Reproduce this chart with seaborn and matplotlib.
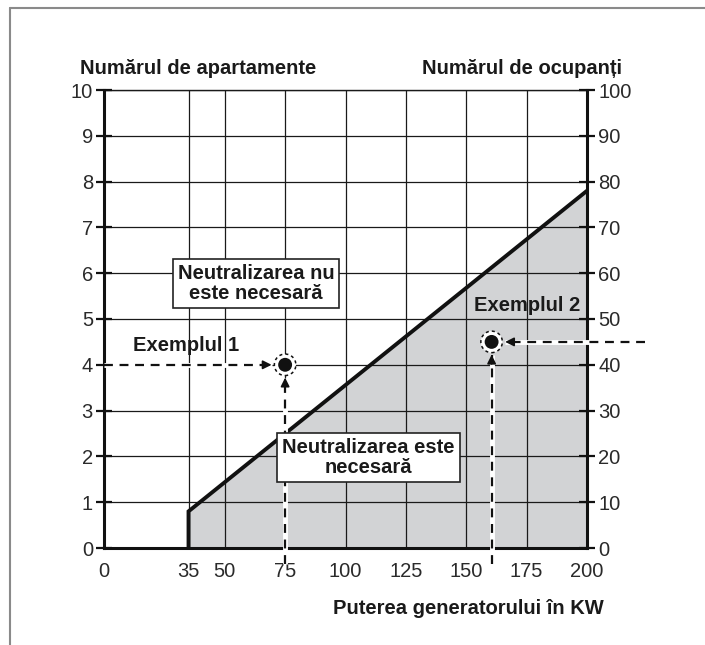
import numpy as np
import pandas as pd
import matplotlib
matplotlib.use('Agg')
import matplotlib.pyplot as plt
import seaborn as sns
from matplotlib.lines import Line2D
from matplotlib.font_manager import FontProperties

# Chart data
x_ticks = [0, 35, 50, 75, 100, 125, 150, 175, 200]
apt_ticks = list(range(0, 11))
occ_ticks = list(range(0, 101, 10))

boundary_kw = [35, 35, 200]
boundary_apt = [0, 0.8, 7.8]

example_names = ['Exemplul 1', 'Exemplul 2']
example_kw = [75, 160.5]
example_apt = [4, 4.5]

sns.set_theme(style='white')
plt.rcParams['font.family'] = ['Liberation Sans', 'DejaVu Sans']
plt.rcParams['axes.unicode_minus'] = False

fig = plt.figure(figsize=(7.05, 6.45), dpi=100)
ax = fig.add_axes([104 / 705, 1 - 548 / 645, 483 / 705, 458 / 645])

boundary = pd.DataFrame({'kw': boundary_kw, 'apt': boundary_apt})

# grey area where neutralisation is needed
ax.fill_between(boundary['kw'], 0, boundary['apt'], color='#d2d3d5', zorder=0, lw=0)

ax.set_xlim(0, 200)
ax.set_ylim(0, 10)
ax.set_xticks(x_ticks)
ax.set_yticks(apt_ticks)
ax.grid(True, color='#1a1a1a', lw=0.9, zorder=1)
ax.set_axisbelow(False)

sns.lineplot(data=boundary, x='kw', y='apt', ax=ax, color='#111111', lw=2.8,
             sort=False, estimator=None, zorder=4, solid_joinstyle='miter')

for s in ['left', 'right', 'bottom']:
    ax.spines[s].set_linewidth(2.2)
    ax.spines[s].set_color('#111111')
    ax.spines[s].set_zorder(5)
ax.spines['top'].set_linewidth(1.0)
ax.spines['top'].set_color('#1a1a1a')

ax2 = ax.twinx()
ax2.set_ylim(0, 100)
ax2.set_yticks(occ_ticks)
for s in ax2.spines.values():
    s.set_visible(False)

tick_fp = FontProperties(family=['Liberation Sans'], size=14.5)
for a in (ax, ax2):
    a.tick_params(direction='inout', length=12, width=1.6, color='#111111', pad=2)
ax.tick_params(axis='x', pad=4)
for lab in ax.get_xticklabels() + ax.get_yticklabels() + ax2.get_yticklabels():
    lab.set_fontproperties(tick_fp)
    lab.set_color('#2a2a2a')
ax.set_xlabel('')
ax.set_ylabel('')
ax2.set_ylabel('')

# example points with dashed guide arrows
dash_kw = dict(lw=1.6, dashes=(4, 3), color='#111111', zorder=6, clip_on=False)
halo_kw = dict(lw=3.5, color='white', zorder=5.5, clip_on=False, solid_capstyle='butt')
head_kw = dict(arrowstyle='-|>', color='#111111', lw=1.2, mutation_scale=13, shrinkA=0, shrinkB=0)


def guide(x0, y0, x1, y1):
    ax.plot([x0, x1], [y0, y1], **halo_kw)
    ax.plot([x0, x1], [y0, y1], **dash_kw)
    dx, dy = x1 - x0, y1 - y0
    n = np.hypot(dx / 200, dy / 10)
    ax.annotate('', xy=(x1, y1), xytext=(x1 - dx / n * 0.02, y1 - dy / n * 0.02),
                arrowprops=head_kw, zorder=7, annotation_clip=False)


ex1_x, ex2_x = example_kw
ex1_y, ex2_y = example_apt
guide(0, ex1_y, ex1_x - 5.6, ex1_y)
guide(ex1_x, -0.35, ex1_x, ex1_y - 0.28)
guide(224, ex2_y, ex2_x + 5.6, ex2_y)
guide(ex2_x, -0.35, ex2_x, ex2_y - 0.28)

points = pd.DataFrame({'kw': example_kw, 'apt': example_apt, 'name': example_names})
ax.scatter(points['kw'], points['apt'], s=240, facecolor='white', edgecolor='#111111',
           linewidths=1.1, linestyles=(0, (2, 2)), zorder=8)
sns.scatterplot(data=points, x='kw', y='apt', ax=ax, s=100, color='#111111',
                edgecolor='none', zorder=9, legend=False)
ax.set_xlabel('')
ax.set_ylabel('')

bold = dict(weight='bold', color='#1a1a1a')
ax.text(34, 4.42, example_names[0], ha='center', va='center', size=14.5, **bold)
ax.text(175, 5.3, example_names[1], ha='center', va='center', size=14.5, **bold)

box = dict(boxstyle='square,pad=0.25', facecolor='white', edgecolor='#222222', lw=1.2)
ax.text(63, 5.78, 'Neutralizarea nu\neste necesară', ha='center', va='center', size=14.5,
        linespacing=1.05, bbox=box, zorder=10, **bold)
ax.text(109.5, 1.98, 'Neutralizarea este\nnecesară', ha='center', va='center', size=14.5,
        linespacing=1.05, bbox=box, zorder=10, **bold)

fig.text(80 / 705, 1 - 68 / 645, 'Numărul de apartamente', ha='left', va='center', size=14.5, **bold)
fig.text(622 / 705, 1 - 68 / 645, 'Numărul de ocupanți', ha='right', va='center', size=14.5, **bold)
fig.text(604 / 705, 1 - 608 / 645, 'Puterea generatorului în KW', ha='right', va='center', size=14.5, **bold)

# page frame
fig.add_artist(Line2D([10 / 705, 1], [1 - 8 / 645] * 2, color='#8a8a8a', lw=1.5, transform=fig.transFigure))
fig.add_artist(Line2D([10 / 705] * 2, [0, 1 - 8 / 645], color='#8a8a8a', lw=1.5, transform=fig.transFigure))

fig.savefig('out.png', dpi=100, facecolor='white')
